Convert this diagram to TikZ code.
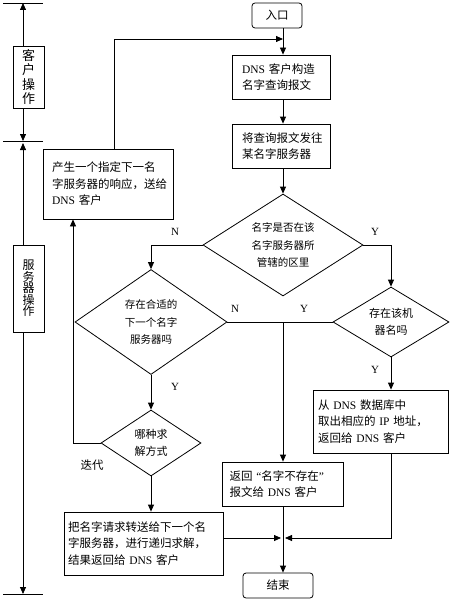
\documentclass[tikz,border=0pt]{standalone}
\usepackage{fontspec}
\setmainfont{Noto Sans CJK SC}
\newfontfamily\latf{Liberation Serif}
\newcommand\lt[1]{{\latf #1}}
\usetikzlibrary{arrows.meta,shapes.geometric}
\begin{document}
\begin{tikzpicture}[x=1pt,y=-1pt, line width=0.8pt,
  tip/.style={-{Triangle[length=7pt,width=6pt]}},
  bx/.style={draw, rectangle, inner sep=0pt, align=left, font=\fontsize{11.5}{16.5}\selectfont},
  rbx/.style={draw, rectangle, rounded corners=3pt, inner sep=0pt, minimum width=50pt, minimum height=25pt, font=\fontsize{11.5}{14}\selectfont},
  dm/.style={draw, diamond, inner sep=0pt, align=center, font=\fontsize{10.5}{17.5}\selectfont},
  lab/.style={font=\latf\fontsize{11}{12}\selectfont},
  vbx/.style={draw, rectangle, inner sep=0pt, minimum width=31pt, align=center}]
\useasboundingbox (0,0) rectangle (457,602);
% left axis
\coordinate (a0) at (23,3);
\coordinate (a1) at (23,141);
\coordinate (a2) at (23,594);
\node[vbx, minimum height=62pt, text width=21pt, font=\fontsize{13}{14.5}\selectfont] (cv) at (28.5,77) {客\\户\\操\\作};
\node[vbx, minimum height=87pt, text width=20pt, font=\fontsize{12}{11.5}\selectfont] (sv) at (28.5,288.5) {服\\务\\器\\操\\作};
\draw[tip] (cv.north -| a0) -- (a0);
\draw[tip] (cv.south -| a0) -- (a1);
\draw[tip] (sv.north -| a0) -- ([yshift=-2pt]a1);
\draw[tip] (sv.south -| a0) -- (a2);
\draw (3,3) -- (43,3);
\draw (3,141) -- (43,141);
\draw (3,594) -- (43,594);
% nodes
\node[rbx] (in) at (277,15.5) {入口};
\node[bx, minimum width=98pt, minimum height=44pt, text width=78pt] (b1) at (281,77) {\lt{DNS} 客户构造\\名字查询报文};
\node[bx, minimum width=98pt, minimum height=44pt, text width=78pt] (b2) at (281,146) {将查询报文发往\\某名字服务器};
\node[dm, minimum width=160pt, minimum height=102pt, shape aspect=1.57] (d1) at (283,245) {名字是否在该\\名字服务器所\\管辖的区里};
\node[dm, minimum width=152pt, minimum height=105pt, shape aspect=1.45] (d2) at (151,322) {存在合适的\\下一个名字\\服务器吗};
\node[dm, minimum width=116pt, minimum height=70pt, shape aspect=1.66, font=\fontsize{11}{17}\selectfont] (d3) at (391,322) {存在该机\\器名吗};
\node[dm, minimum width=100pt, minimum height=66pt, shape aspect=1.52, font=\fontsize{11}{17}\selectfont] (d4) at (151,443) {哪种求\\解方式};
\node[bx, minimum width=130pt, minimum height=70pt, text width=112pt] (lbox) at (108,184) {产生一个指定下一名\\字服务器的响应，送给\\\lt{DNS} 客户};
\node[bx, minimum width=135pt, minimum height=63pt, text width=125pt] (rbox) at (380.5,421.5) {从 \lt{DNS} 数据库中\\取出相应的 \lt{IP} 地址，\\返回给 \lt{DNS} 客户};
\node[bx, minimum width=121pt, minimum height=44pt, text width=107pt] (mbox) at (283,484) {返回\lt{ “}名字不存在\lt{”}\\报文给 \lt{DNS} 客户};
\node[bx, minimum width=159pt, minimum height=63pt, text width=151pt] (bbox) at (143.5,543.5) {把名字请求转送给下一个名\\字服务器，进行递归求解，\\结果返回给 \lt{DNS} 客户};
\node[rbx, minimum width=70pt] (end) at (278,585.5) {结束};
% coordinates
\coordinate (j1) at (283,39);
\coordinate (fy) at (114,39);
\coordinate (fx) at (73,443);
\coordinate (jl) at (281,538);
\coordinate (jr) at (285,538);
% connectors
\draw[tip] (in.south -| j1) -- (b1.north -| j1);
\draw[tip] (lbox.north -| fy) |- (j1);
\draw[tip] (b1.south -| j1) -- (b2.north -| j1);
\draw[tip] (b2.south -| j1) -- (d1.north);
\draw[tip] (d1.east) -| (d3.north);
\draw[tip] (d1.west) -| (d2.north);
\draw (d2.east) -- (d3.west);
\draw[tip] (d2.east -| mbox.north) -- (mbox.north);
\draw[tip] (d3.south) -- (d3.south |- rbox.north);
\draw[tip] (rbox.south -| d3.south) |- (jr);
\draw[tip] (bbox.east |- jl) -- (jl);
\draw[tip] (mbox.south) -- (mbox.south |- end.north);
\draw[tip] (d2.south) -- (d4.north);
\draw[tip] (d4.south) -- (d4.south |- bbox.north);
\draw[tip] (d4.west) -| (lbox.south -| fx);
% labels
\node[lab] (n1) at (175,232) {N};
\node[lab] (y1) at (375,232) {Y};
\node[lab] (n2) at (235,309) {N};
\node[lab] (y2) at (304,309) {Y};
\node[lab] (y3) at (175,387) {Y};
\node[lab] (y4) at (375,370) {Y};
\node[font=\fontsize{11.5}{14}\selectfont] (it) at (92,465) {迭代};
\end{tikzpicture}
\end{document}
